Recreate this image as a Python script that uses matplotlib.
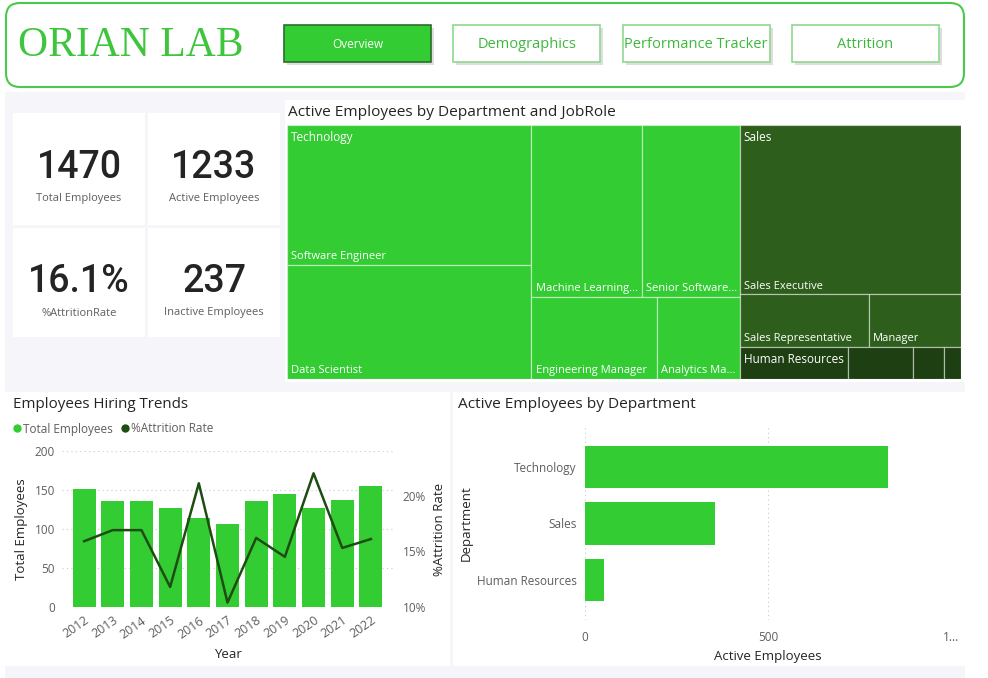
import matplotlib.pyplot as plt
from matplotlib.patches import Rectangle, FancyBboxPatch
from matplotlib.lines import Line2D

plt.rcParams['font.family'] = ['Open Sans', 'DejaVu Sans']

W, H = 988, 678
GREEN = '#33CC33'
DARK = '#1E4D12'
TXT = '#252423'
GREY = '#605E5C'

## data
nav_buttons = ["Overview", "Demographics", "Performance Tracker", "Attrition"]

years = [2012, 2013, 2014, 2015, 2016, 2017, 2018, 2019, 2020, 2021, 2022]
total_employees = [151, 136, 136, 127, 114, 106, 136, 145, 127, 137, 155]
attrition_rate = [15.9, 16.9, 16.9, 11.8, 21.1, 10.4, 16.2, 14.5, 22.0, 15.3, 16.1]

departments = ["Technology", "Sales", "Human Resources"]
active_by_dept = [828, 354, 51]

tech_roles = ["Software Engineer", "Data Scientist", "Machine Learning Engineer",
              "Senior Software Engineer", "Engineering Manager", "Analytics Manager"]
tech_active = [246, 201, 137, 121, 74, 49]
sales_roles = ["Sales Executive", "Sales Representative", "Manager"]
sales_active = [270, 49, 35]
hr_roles = ["HR Executive", "Manager", "Recruiter", "HR Specialist"]
hr_active = [25, 15, 7, 4]

total = sum(total_employees)
active = sum(active_by_dept)
inactive = total - active
kpi_values = [f"{total}", f"{active}", f"{inactive / total * 100:.1f}%", f"{inactive}"]
kpi_labels = ["Total Employees", "Active Employees", "%AttritionRate", "Inactive Employees"]


def box(x0, y0, x1, y1):
    return [x0 / W, 1 - y1 / H, (x1 - x0) / W, (y1 - y0) / H]


fig = plt.figure(figsize=(W / 100, H / 100), dpi=100)
fig.patch.set_facecolor('white')
bg = fig.add_axes([0, 0, 1, 1])
bg.set_xlim(0, W)
bg.set_ylim(H, 0)
bg.axis('off')

## page background and panels
bg.add_patch(Rectangle((5, 92), 960, 586, fc='#F6F6FA', ec='none', zorder=0))
bg.add_patch(FancyBboxPatch((6, 3), 958, 84, boxstyle='round,pad=0,rounding_size=14',
                            fc='white', ec='#4CC94C', lw=1.5, zorder=1))
bg.text(18, 46, 'ORIAN LAB', family='Liberation Serif', size=30, color='#3DC63D',
        va='center', ha='left')

for i, label in enumerate(nav_buttons):
    x0 = 284 + i * 169.3
    bg.add_patch(Rectangle((x0 + 3, 28), 147, 37, fc='#C8C8C8', ec='none', alpha=0.6, zorder=2))
    if i == 0:
        bg.add_patch(Rectangle((x0, 25), 147, 37, fc=GREEN, ec='#2B6E2B', lw=1.2, zorder=3))
        bg.text(x0 + 73.5, 45, label, color='white', size=8.5, ha='center', va='center', zorder=4)
    else:
        bg.add_patch(Rectangle((x0, 25), 147, 37, fc='white', ec='#8FD98F', lw=1.2, zorder=3))
        bg.text(x0 + 73.5, 45, label, color='#3DB83D', size=10.5, ha='center', va='center', zorder=4)

## kpi cards
cards = [(13, 113, 145, 225), (148, 113, 280, 225), (13, 228, 145, 337), (148, 228, 280, 337)]
for (x0, y0, x1, y1), val, lab in zip(cards, kpi_values, kpi_labels):
    bg.add_patch(Rectangle((x0, y0), x1 - x0, y1 - y0, fc='white', ec='none', zorder=1))
    cx = (x0 + x1) / 2
    bg.text(cx, y0 + 54, val, family='Roboto', weight='medium', size=27, color=TXT,
            ha='center', va='center', zorder=2)
    bg.text(cx, y0 + 85, lab, size=8, color=GREY, ha='center', va='center', zorder=2)

bg.add_patch(Rectangle((285, 100), 680, 282, fc='white', ec='none', zorder=1))
bg.add_patch(Rectangle((5, 392), 445, 274, fc='white', ec='none', zorder=1))
bg.add_patch(Rectangle((453, 392), 512, 274, fc='white', ec='none', zorder=1))
bg.text(288, 113, 'Active Employees by Department and JobRole', size=11.1, color=TXT, va='center', zorder=2)
bg.text(13, 405, 'Employees Hiring Trends', size=10.9, color=TXT, va='center', zorder=2)
bg.text(458, 405, 'Active Employees by Department', size=11.1, color=TXT, va='center', zorder=2)

## treemap
tm = fig.add_axes(box(287, 125, 961, 379))
tm.set_xlim(0, 1)
tm.set_ylim(1, 0)
tm.axis('off')
TM_W, TM_H = 674, 254


def split(rect, weights, axis):
    x, y, w, h = rect
    s = float(sum(weights))
    out = []
    pos = 0.0
    for v in weights:
        f = v / s
        if axis == 'x':
            out.append((x + pos * w, y, f * w, h))
        else:
            out.append((x, y + pos * h, w, f * h))
        pos += f
    return out


renderer = fig.canvas.get_renderer()


def fit_label(t, max_px, full):
    t.draw(renderer)
    if t.get_window_extent(renderer).width <= max_px:
        return
    s = full
    while len(s) > 1:
        s = s[:-1].rstrip()
        t.set_text(s + '...')
        if t.get_window_extent(renderer).width <= max_px:
            return


def leaf(rect, color, role, dept=None):
    x, y, w, h = rect
    tm.add_patch(Rectangle((x, y), w, h, fc=color, ec=(1, 1, 1, 0.45), lw=0.9))
    if dept:
        tm.annotate(dept, (x, y), xytext=(3, -4), textcoords='offset points',
                    color='white', size=8.5, va='top', ha='left')
    if h * TM_H > 40:
        t = tm.annotate(role, (x, y + h), xytext=(3, 2), textcoords='offset points',
                        color='white', size=8, va='bottom', ha='left')
        fit_label(t, w * TM_W - 6, role)


tech_r, rest_r = split((0, 0, 1, 1), [sum(tech_active), sum(sales_active) + sum(hr_active)], 'x')
sales_r, hr_r = split(rest_r, [sum(sales_active), sum(hr_active)], 'y')

col1, col2 = split(tech_r, [sum(tech_active[:2]), sum(tech_active[2:])], 'x')
tech_rects = split(col1, tech_active[:2], 'y')
row1, row2 = split(col2, [sum(tech_active[2:4]), sum(tech_active[4:])], 'y')
tech_rects += split(row1, tech_active[2:4], 'x') + split(row2, tech_active[4:], 'x')
for i, (r, role) in enumerate(zip(tech_rects, tech_roles)):
    leaf(r, GREEN, role, departments[0] if i == 0 else None)

s_top, s_bot = split(sales_r, [sales_active[0], sum(sales_active[1:])], 'y')
sales_rects = [s_top] + split(s_bot, sales_active[1:], 'x')
for i, (r, role) in enumerate(zip(sales_rects, sales_roles)):
    leaf(r, '#2E5E1C', role, departments[1] if i == 0 else None)

for i, (r, role) in enumerate(zip(split(hr_r, hr_active, 'x'), hr_roles)):
    leaf(r, '#1D3F12', role, departments[2] if i == 0 else None)

## hiring trends
ax = fig.add_axes(box(62, 451, 393, 607))
xs = list(range(len(years)))
ax.bar(xs, total_employees, width=0.8, color=GREEN, zorder=2)
ax.set_xlim(-0.77, 10.77)
ax.set_ylim(0, 200)
ax.set_yticks([0, 50, 100, 150, 200])
ax.set_xticks(xs)
ax.set_xticklabels([str(y) for y in years], rotation=35, ha='right', rotation_mode='anchor')
ax.grid(axis='y', linestyle=(0, (1, 3)), color='#C8C8C8', lw=0.8, zorder=0)
ax.tick_params(length=0, labelsize=8.5, labelcolor=GREY, pad=5)
ax.tick_params(axis='x', pad=5, labelsize=9)
for s in ax.spines.values():
    s.set_visible(False)
ax.set_xlabel('Year', size=9.5, color=TXT, labelpad=5)
ax.set_ylabel('Total Employees', size=9.5, color=TXT, labelpad=5)
ax.set_facecolor('none')

ax2 = ax.twinx()
ax2.plot(xs, attrition_rate, color=DARK, lw=1.8, zorder=3)
ax2.set_ylim(10, 24)
ax2.set_yticks([10, 15, 20])
ax2.set_yticklabels(['10%', '15%', '20%'])
ax2.tick_params(length=0, labelsize=8.5, labelcolor=GREY, pad=7)
for s in ax2.spines.values():
    s.set_visible(False)
ax2.set_ylabel('%Attrition Rate', size=9.5, color=TXT, labelpad=5)

handles = [Line2D([], [], ls='none', marker='o', ms=5, color=GREEN),
           Line2D([], [], ls='none', marker='o', ms=5, color=DARK)]
bg.legend(handles, ['Total Employees', '%Attrition Rate'], loc='center left',
          bbox_to_anchor=(0, 429), bbox_transform=bg.transData, ncol=2, frameon=False,
          handletextpad=0.05, columnspacing=0.5, handlelength=1.0,
          prop={'size': 8.5}, labelcolor=GREY)

## active employees by department
ax3 = fig.add_axes(box(585, 427, 951, 620))
ys = list(range(len(departments)))
ax3.barh(ys, active_by_dept, height=0.755, color=GREEN, zorder=2)
ax3.set_ylim(2.71, -0.71)
ax3.set_xlim(0, 1000)
ax3.set_yticks(ys)
ax3.set_yticklabels(departments)
ax3.set_xticks([0, 500, 1000])
ax3.set_xticklabels(['0', '500', '1...'])
ax3.grid(axis='x', linestyle=(0, (1, 3)), color='#C8C8C8', lw=0.8, zorder=0)
ax3.tick_params(length=0, labelsize=8.5, labelcolor=GREY, pad=6)
ax3.tick_params(axis='x', pad=8)
for s in ax3.spines.values():
    s.set_visible(False)
ax3.set_xlabel('Active Employees', size=9.5, color=TXT, labelpad=4)
ax3.set_ylabel('Department', size=9.5, color=TXT, labelpad=3)
ax3.set_facecolor('none')

fig.savefig('out.png', dpi=100)
